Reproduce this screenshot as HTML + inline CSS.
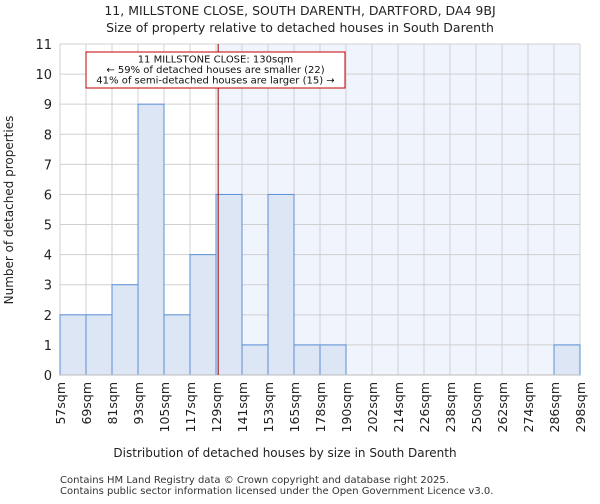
<!DOCTYPE html>
<html><head><meta charset="utf-8"><style>
body{margin:0;background:#fff;width:600px;height:500px;overflow:hidden;font-family:"DejaVu Sans","Liberation Sans",sans-serif}
</style></head><body>
<svg width="600" height="500" id="chart" font-family="DejaVu Sans, Liberation Sans, sans-serif">
<text x="300" y="15" text-anchor="middle" font-size="12.5" fill="#222">11, MILLSTONE CLOSE, SOUTH DARENTH, DARTFORD, DA4 9BJ</text>
<text x="300" y="32" text-anchor="middle" font-size="12.5" fill="#222">Size of property relative to detached houses in South Darenth</text>
<g id="plot"></g>
<text x="285" y="457" text-anchor="middle" font-size="12" fill="#222">Distribution of detached houses by size in South Darenth</text>
<text transform="translate(13,210) rotate(-90)" text-anchor="middle" font-size="12" fill="#222">Number of detached properties</text>
<text x="60" y="483" font-size="10" fill="#333">Contains HM Land Registry data © Crown copyright and database right 2025.</text>
<text x="60" y="494" font-size="10" fill="#333">Contains public sector information licensed under the Open Government Licence v3.0.</text>
</svg>
<script>
const edges=[57,69,81,93,105,117,129,141,153,165,178,190,202,214,226,238,250,262,274,286,298];
const counts=[2,2,3,9,2,4,6,1,6,1,1,0,0,0,0,0,0,0,0,1];
const yTicks=[0,1,2,3,4,5,6,7,8,9,10,11];
const propertySize=130;
const L=60,R=580,T=44,B=375,yMax=11;
const nb=edges.length-1,bw=(R-L)/nb;
function xIdx(i){return L+i*bw;}
function xVal(v){for(let i=0;i<nb;i++){if(v<=edges[i+1]){return xIdx(i)+(v-edges[i])/(edges[i+1]-edges[i])*bw;}}return R;}
function y(v){return B-(v/yMax)*(B-T);}
const g=document.getElementById('plot');const NS='http://www.w3.org/2000/svg';
function mk(t,a){const e=document.createElementNS(NS,t);for(const k in a)e.setAttribute(k,a[k]);g.appendChild(e);return e;}
const px=xVal(propertySize);
let s=mk('rect',{x:px,y:T,width:R-px,height:B-T,fill:'#f0f4fc'});


for(let i=0;i<=nb;i++){const l=mk('line',{x1:xIdx(i),x2:xIdx(i),y1:T,y2:B,stroke:'#d0d0d0','stroke-width':1});

}
yTicks.forEach(t=>{const l=mk('line',{x1:L,x2:R,y1:y(t),y2:y(t),stroke:'#d0d0d0','stroke-width':1});


const tx=mk('text',{x:L-8,y:y(t)+5,'text-anchor':'end','font-size':13,fill:'#222'});tx.textContent=t;

});
counts.forEach((c,i)=>{if(c<=0)return;const r=mk('rect',{x:xIdx(i),y:y(c),width:bw,height:B-y(c),fill:'#dce6f4',stroke:'#5b8fd6','stroke-width':1});

});
edges.forEach((e,i)=>{const tx=mk('text',{transform:`translate(${xIdx(i)+5},382) rotate(-90)`,'text-anchor':'end','font-size':12.5,fill:'#222'});tx.textContent=e+'sqm';

});
const ax=mk('line',{x1:L,x2:R,y1:B,y2:B,stroke:'#bbb'});


const rl=mk('line',{x1:px,x2:px,y1:T,y2:B,stroke:'#a00000','stroke-width':1});


const box=mk('rect',{x:86,y:52,width:259,height:36,fill:'#fff',stroke:'#c00000','stroke-width':1});


['11 MILLSTONE CLOSE: 130sqm','← 59% of detached houses are smaller (22)','41% of semi-detached houses are larger (15) →'].forEach((t,i)=>{const tx=mk('text',{x:215.5,y:62.5+i*10.5,'text-anchor':'middle','font-size':10,fill:'#111'});tx.textContent=t;

});
</script>
</body></html>
